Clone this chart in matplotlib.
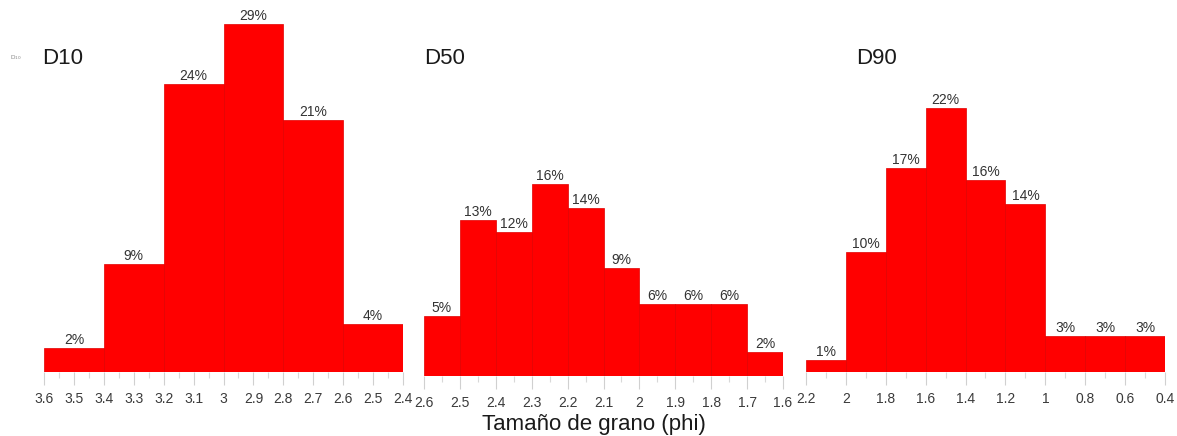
import matplotlib
matplotlib.use("Agg")
import matplotlib.pyplot as plt
import numpy as np

plt.rcParams['font.family'] = ['Liberation Sans', 'DejaVu Sans']

# Data
d10_edges = [3.6, 3.4, 3.2, 3.0, 2.8, 2.6, 2.4]
d10_values = [2, 9, 24, 29, 21, 4]
d10_ticks = [3.6, 3.5, 3.4, 3.3, 3.2, 3.1, 3.0, 2.9, 2.8, 2.7, 2.6, 2.5, 2.4]
d10_ticklabels = ["3.6", "3.5", "3.4", "3.3", "3.2", "3.1", "3", "2.9", "2.8", "2.7", "2.6", "2.5", "2.4"]

d50_edges = [2.6, 2.5, 2.4, 2.3, 2.2, 2.1, 2.0, 1.9, 1.8, 1.7, 1.6]
d50_values = [5, 13, 12, 16, 14, 9, 6, 6, 6, 2]
d50_ticks = [2.6, 2.5, 2.4, 2.3, 2.2, 2.1, 2.0, 1.9, 1.8, 1.7, 1.6]
d50_ticklabels = ["2.6", "2.5", "2.4", "2.3", "2.2", "2.1", "2", "1.9", "1.8", "1.7", "1.6"]

d90_edges = [2.2, 2.0, 1.8, 1.6, 1.4, 1.2, 1.0, 0.8, 0.6, 0.4]
d90_values = [1, 10, 17, 22, 16, 14, 3, 3, 3]
d90_ticks = [2.2, 2.0, 1.8, 1.6, 1.4, 1.2, 1.0, 0.8, 0.6, 0.4]
d90_ticklabels = ["2.2", "2", "1.8", "1.6", "1.4", "1.2", "1", "0.8", "0.6", "0.4"]

titles = ["D10", "D50", "D90"]

W, H = 1177, 436
fig = plt.figure(figsize=(W / 100, H / 100), dpi=100)

panels = [
    (d10_edges, d10_values, d10_ticks, d10_ticklabels, 44, 403, 372),
    (d50_edges, d50_values, d50_ticks, d50_ticklabels, 424, 783, 376),
    (d90_edges, d90_values, d90_ticks, d90_ticklabels, 806, 1165, 372),
]
title_x = [42, 424, 856]

px_per_pct = 12.0
ymax = 30

for i, (edges, vals, ticks, tlabels, x0, x1, base) in enumerate(panels):
    height_px = ymax * px_per_pct
    ax = fig.add_axes([x0 / W, (H - base) / H, (x1 - x0) / W, height_px / H])
    edges = np.array(edges)
    lefts = edges[:-1]
    widths = edges[1:] - edges[:-1]
    ax.bar(lefts, vals, width=widths, align='edge', color='#ff0000',
           edgecolor='#e00000', linewidth=0.5)
    for l, w, v in zip(lefts, widths, vals):
        ax.annotate(f"{v}%", (l + w / 2, v), xytext=(0, 1), textcoords='offset points',
                    ha='center', va='bottom', fontsize=10, color='#333333')
    ax.set_xlim(edges[0], edges[-1])
    ax.set_ylim(0, ymax)
    ax.set_xticks(ticks)
    ax.set_xticklabels(tlabels)
    step = abs(ticks[1] - ticks[0])
    minor = np.arange(min(ticks) + step / 2, max(ticks), step)
    ax.set_xticks(minor, minor=True)
    ax.tick_params(axis='x', which='major', length=9.5, width=0.8, color='#d0d0d0',
                   labelsize=10, labelcolor='#3a3a3a', pad=5)
    ax.tick_params(axis='x', which='minor', length=4.5, width=0.8, color='#d8d8d8')
    ax.set_yticks([])
    for s in ax.spines.values():
        s.set_visible(False)
    ax.patch.set_alpha(0)
    fig.text(title_x[i] / W, 1 - 58 / H, titles[i], ha='left', va='center',
             fontsize=16, color='#1a1a1a')

fig.text(594 / W, 1 - 424 / H, "Tamaño de grano (phi)", ha='center', va='center',
         fontsize=16, color='#1a1a1a')
fig.text(10 / W, 1 - 58 / H, "D$_{10}$", ha='left', va='center', fontsize=4.5,
         color='#888888')

fig.savefig("out.png", dpi=100)
